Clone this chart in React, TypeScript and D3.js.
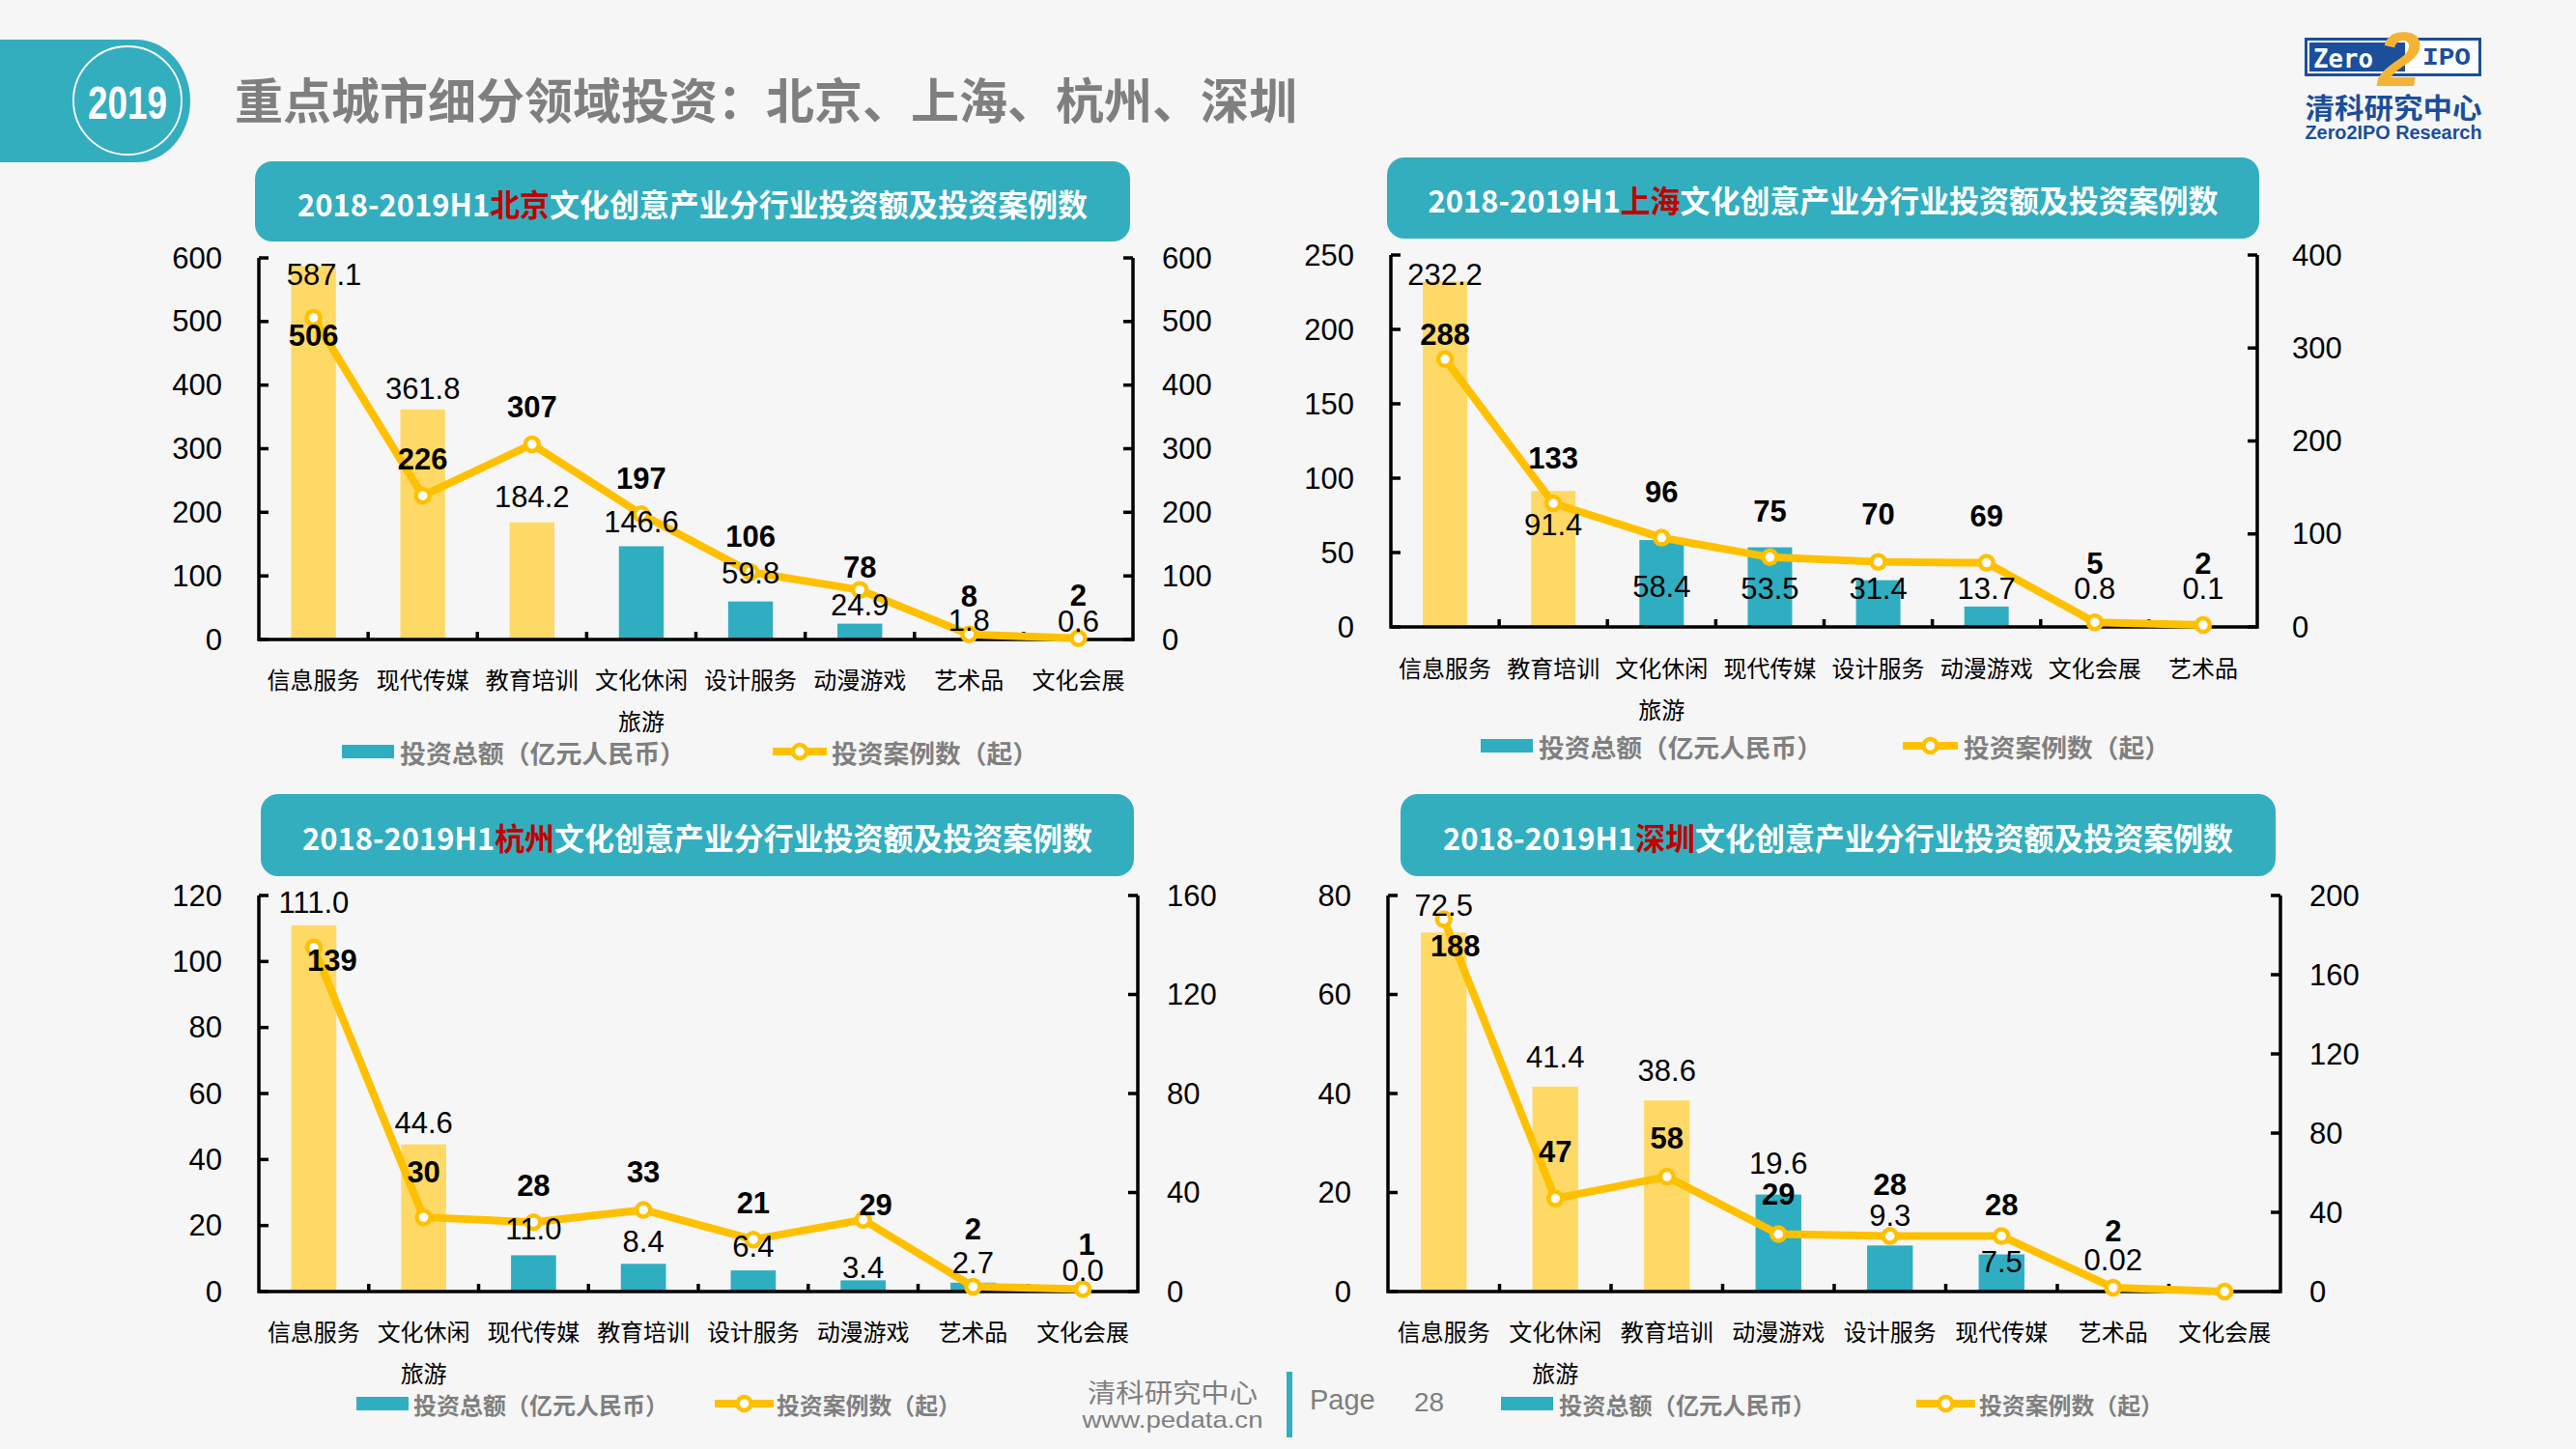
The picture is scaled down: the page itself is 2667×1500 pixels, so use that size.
import React from 'react';
import * as d3 from 'd3';

const CJK = "'Noto Sans CJK SC','Noto Sans CJK JP',sans-serif";
const NUM = "'Liberation Sans',Arial,sans-serif";
const TEAL = '#33AEBF';
const BAR_TEAL = '#2FAEC1';
const BAR_YELLOW = '#FFD966';
const LINE = '#FFC000';
const BG = '#F6F6F6';
const DARK_RED = '#C00000';
const GRAY = '#7F7F7F';
const LOGO_BLUE = '#1B4E9B';

// ---------------- Data ----------------
const bjCategories = ['信息服务', '现代传媒', '教育培训', '文化休闲旅游', '设计服务', '动漫游戏', '艺术品', '文化会展'];
const bjAmounts: (number | null)[] = [587.1, 361.8, 184.2, 146.6, 59.8, 24.9, 1.8, 0.6];
const bjCases = [506, 226, 307, 197, 106, 78, 8, 2];
const bjLeftTicks = [0, 100, 200, 300, 400, 500, 600];
const bjRightTicks = [0, 100, 200, 300, 400, 500, 600];

const shCategories = ['信息服务', '教育培训', '文化休闲旅游', '现代传媒', '设计服务', '动漫游戏', '文化会展', '艺术品'];
const shAmounts: (number | null)[] = [232.2, 91.4, 58.4, 53.5, 31.4, 13.7, 0.8, 0.1];
const shCases = [288, 133, 96, 75, 70, 69, 5, 2];
const shLeftTicks = [0, 50, 100, 150, 200, 250];
const shRightTicks = [0, 100, 200, 300, 400];

const hzCategories = ['信息服务', '文化休闲旅游', '现代传媒', '教育培训', '设计服务', '动漫游戏', '艺术品', '文化会展'];
const hzAmounts: (number | null)[] = [111.0, 44.6, 11.0, 8.4, 6.4, 3.4, 2.7, 0.0];
const hzCases = [139, 30, 28, 33, 21, 29, 2, 1];
const hzLeftTicks = [0, 20, 40, 60, 80, 100, 120];
const hzRightTicks = [0, 40, 80, 120, 160];

const szCategories = ['信息服务', '文化休闲旅游', '教育培训', '动漫游戏', '设计服务', '现代传媒', '艺术品', '文化会展'];
const szAmounts: (number | null)[] = [72.5, 41.4, 38.6, 19.6, 9.3, 7.5, 0.02, null];
const szCases = [188, 47, 58, 29, 28, 28, 2, 0];
const szLeftTicks = [0, 20, 40, 60, 80];
const szRightTicks = [0, 40, 80, 120, 160, 200];

const legendBarName = '投资总额（亿元人民币）';
const legendLineName = '投资案例数（起）';
const titlePrefix = '2018-2019H1';
const titleSuffix = '文化创意产业分行业投资额及投资案例数';

// ---------------- Layout (label offsets in px, separate from data) ----------------
const bjBarDy = [9, -21, -26, -25, -29, -19, -18, -18];
const bjLineDy = [19, -38, -38, -37, -37, -23, -39, -44];
const shBarDy = [-7, 35, 48, 43, 9, -18, -38, -39];
const shLineDy = [-25, -46, -47, -47, -49, -48, -61, -64];
const hzBarDy = [-23, -22, -27, -23, -25, -13, -20, -22];
const hzLineDy = [14, -47, -38, -39, -38, -15, -59, -46];
const szBarDy = [-28, -30, -31, -32, -31, 8, -32, 0];
const szLineDy = [28, -48, -40, -41, -53, -32, -58, 0];
const bjBarDx = [11, 0, 0, 0, 0, 0, 0, 0];
const hzLineDx = [19, 0, 0, 0, 0, 13, 0, 4];
const szLineDx = [12, 0, 0, 0, 0, 0, 0, 0];
const zeros = [0, 0, 0, 0, 0, 0, 0, 0];

type Spec = {
  city: string;
  categories: string[];
  amounts: (number | null)[];
  cases: number[];
  leftTicks: number[];
  rightTicks: number[];
  highlight: number;
  x0: number; x1: number; yTop: number; yBase: number;
  banner: { x: number; y: number; w: number; h: number };
  catY: number; catY2: number;
  rightGap: number;
  legend: { y: number; sw: number; t1: number; w1: number; l0: number; l1: number; t2: number; w2: number; fs: number };
  barDy: number[]; lineDy: number[]; barDx: number[]; lineDx: number[];
};

const specs: Spec[] = [
  {
    city: '北京', categories: bjCategories, amounts: bjAmounts, cases: bjCases,
    leftTicks: bjLeftTicks, rightTicks: bjRightTicks, highlight: 3,
    x0: 268, x1: 1173, yTop: 267, yBase: 662,
    banner: { x: 264, y: 167, w: 906, h: 83 }, catY: 702, catY2: 745, rightGap: 30,
    legend: { y: 778, sw: 354, t1: 414, w1: 296, l0: 800, l1: 856, t2: 861, w2: 214, fs: 26 },
    barDy: bjBarDy, lineDy: bjLineDy, barDx: bjBarDx, lineDx: zeros,
  },
  {
    city: '上海', categories: shCategories, amounts: shAmounts, cases: shCases,
    leftTicks: shLeftTicks, rightTicks: shRightTicks, highlight: 2,
    x0: 1440, x1: 2337, yTop: 264, yBase: 649,
    banner: { x: 1436, y: 163, w: 903, h: 84 }, catY: 690, catY2: 733, rightGap: 36,
    legend: { y: 772, sw: 1533, t1: 1593, w1: 294, l0: 1970, l1: 2027, t2: 2033, w2: 214, fs: 26 },
    barDy: shBarDy, lineDy: shLineDy, barDx: zeros, lineDx: zeros,
  },
  {
    city: '杭州', categories: hzCategories, amounts: hzAmounts, cases: hzCases,
    leftTicks: hzLeftTicks, rightTicks: hzRightTicks, highlight: 2,
    x0: 268, x1: 1178, yTop: 927, yBase: 1337,
    banner: { x: 270, y: 822, w: 904, h: 85 }, catY: 1377, catY2: 1420, rightGap: 30,
    legend: { y: 1453, sw: 369, t1: 428, w1: 264, l0: 740, l1: 801, t2: 804, w2: 191, fs: 24 },
    barDy: hzBarDy, lineDy: hzLineDy, barDx: zeros, lineDx: hzLineDx,
  },
  {
    city: '深圳', categories: szCategories, amounts: szAmounts, cases: szCases,
    leftTicks: szLeftTicks, rightTicks: szRightTicks, highlight: 3,
    x0: 1437, x1: 2361, yTop: 927, yBase: 1337,
    banner: { x: 1450, y: 822, w: 906, h: 85 }, catY: 1377, catY2: 1420, rightGap: 30,
    legend: { y: 1453, sw: 1554, t1: 1614, w1: 266, l0: 1984, l1: 2045, t2: 2049, w2: 191, fs: 24 },
    barDy: szBarDy, lineDy: szLineDy, barDx: zeros, lineDx: szLineDx,
  },
];

const fmtAmount = (v: number | null) =>
  v === null ? '' : v > 0 && v < 0.1 ? String(v) : v.toFixed(1);

function Chart({ s }: { s: Spec }) {
  const x = d3.scaleBand<string>().domain(s.categories).range([s.x0, s.x1]).padding(0);
  const band = x.bandwidth();
  const bw = band * 0.41;
  const yL = d3.scaleLinear().domain([0, d3.max(s.leftTicks) as number]).range([s.yBase, s.yTop]);
  const yR = d3.scaleLinear().domain([0, d3.max(s.rightTicks) as number]).range([s.yBase, s.yTop]);
  const cx = (i: number) => (x(s.categories[i]) as number) + band / 2;
  const linePath = d3.line<number>().x((_, i) => cx(i)).y((d) => yR(d))(s.cases) as string;
  const b = s.banner;
  const axisW = 3.5;
  const tickLen = 10;
  const lg = s.legend;

  return (
    <g>
      {/* banner */}
      <rect x={b.x} y={b.y} width={b.w} height={b.h} rx={18} fill={TEAL} />
      <text x={b.x + b.w / 2} y={b.y + b.h / 2 + 1} textAnchor="middle" dominantBaseline="central"
        fontFamily={CJK} fontWeight={700} fontSize={32} fill="#fff" textLength={818} lengthAdjust="spacingAndGlyphs">
        <tspan>{titlePrefix}</tspan>
        <tspan fill={DARK_RED}>{s.city}</tspan>
        <tspan>{titleSuffix}</tspan>
      </text>

      {/* bars */}
      {s.amounts.map((v, i) =>
        v === null ? null : (
          <rect key={'b' + i} x={cx(i) - bw / 2} y={yL(v)} width={bw} height={s.yBase - yL(v)}
            fill={i < s.highlight ? BAR_YELLOW : BAR_TEAL} />
        )
      )}

      {/* axes */}
      <g stroke="#000" strokeWidth={axisW} fill="none">
        <path d={`M${s.x0},${s.yTop} V${s.yBase} H${s.x1} V${s.yTop}`} strokeLinejoin="miter" />
        {s.leftTicks.map((t) => (
          <path key={'lt' + t} d={`M${s.x0},${yL(t)} h${tickLen}`} />
        ))}
        {s.rightTicks.map((t) => (
          <path key={'rt' + t} d={`M${s.x1},${yR(t)} h${-tickLen}`} />
        ))}
        {s.categories.slice(1).map((c) => (
          <path key={'xt' + c} d={`M${x(c)},${s.yBase} v${-8}`} />
        ))}
      </g>

      {/* tick labels */}
      <g fontFamily={NUM} fontSize={31} fill="#000">
        {s.leftTicks.map((t) => (
          <text key={'ll' + t} x={s.x0 - 38} y={yL(t)} textAnchor="end" dominantBaseline="central">{t}</text>
        ))}
        {s.rightTicks.map((t) => (
          <text key={'rl' + t} x={s.x1 + s.rightGap} y={yR(t)} textAnchor="start" dominantBaseline="central">{t}</text>
        ))}
      </g>

      {/* category labels */}
      <g fontFamily={CJK} fontSize={24} fill="#000">
        {s.categories.map((c, i) => (
          <g key={'c' + c}>
            <text x={cx(i)} y={s.catY} textAnchor="middle" dominantBaseline="central">{c.slice(0, 4)}</text>
            {c.length > 4 && (
              <text x={cx(i)} y={s.catY2} textAnchor="middle" dominantBaseline="central">{c.slice(4)}</text>
            )}
          </g>
        ))}
      </g>

      {/* line */}
      <path d={linePath} fill="none" stroke={LINE} strokeWidth={8} strokeLinejoin="round" />
      {s.cases.map((v, i) => (
        <circle key={'m' + i} cx={cx(i)} cy={yR(v)} r={7} fill="#fff" stroke={LINE} strokeWidth={4.5} />
      ))}

      {/* bar value labels */}
      <g fontFamily={NUM} fontSize={31} fill="#000">
        {s.amounts.map((v, i) =>
          v === null ? null : (
            <text key={'bl' + i} x={cx(i) + s.barDx[i]} y={yL(v) + s.barDy[i]} textAnchor="middle" dominantBaseline="central">
              {fmtAmount(v)}
            </text>
          )
        )}
      </g>
      {/* line value labels */}
      <g fontFamily={NUM} fontSize={31} fontWeight={700} fill="#000">
        {s.cases.map((v, i) =>
          v > 0 ? (
            <text key={'cl' + i} x={cx(i) + s.lineDx[i]} y={yR(v) + s.lineDy[i]} textAnchor="middle" dominantBaseline="central">
              {v}
            </text>
          ) : null
        )}
      </g>

      {/* legend */}
      <rect x={lg.sw} y={lg.y - 7} width={54} height={14} fill={BAR_TEAL} />
      <text x={lg.t1} y={lg.y} dominantBaseline="central" fontFamily={CJK} fontWeight={700} fontSize={lg.fs} fill={GRAY}
        textLength={lg.w1} lengthAdjust="spacingAndGlyphs">
        {legendBarName}
      </text>
      <path d={`M${lg.l0},${lg.y} H${lg.l1}`} stroke={LINE} strokeWidth={8} />
      <circle cx={(lg.l0 + lg.l1) / 2} cy={lg.y} r={7} fill="#fff" stroke={LINE} strokeWidth={4.5} />
      <text x={lg.t2} y={lg.y} dominantBaseline="central" fontFamily={CJK} fontWeight={700} fontSize={lg.fs} fill={GRAY}
        textLength={lg.w2} lengthAdjust="spacingAndGlyphs">
        {legendLineName}
      </text>
    </g>
  );
}

function Header() {
  return (
    <g>
      <path d="M0,41 H141 A56,63.5 0 0 1 141,168 H0 Z" fill={TEAL} />
      <circle cx={132} cy={104} r={56} fill="none" stroke="#fff" strokeWidth={1.8} />
      <text x={132} y={106} textAnchor="middle" dominantBaseline="central" fontFamily={NUM} fontWeight={700}
        fontSize={48} fill="#fff" textLength={82} lengthAdjust="spacingAndGlyphs">2019</text>
      <text x={243} y={101} dominantBaseline="central" fontFamily={CJK} fontWeight={700} fontSize={50}
        fill={GRAY} textLength={1100} lengthAdjust="spacingAndGlyphs">
        重点城市细分领域投资：北京、上海、杭州、深圳
      </text>

      {/* logo */}
      <rect x={2386} y={39} width={183} height={40} fill={LOGO_BLUE} />
      <rect x={2490} y={44} width={74} height={30} fill="#fff" />
      <rect x={2390} y={43} width={175} height={32} fill="none" stroke="#fff" strokeWidth={2} />
      <text x={2395} y={60} dominantBaseline="central" fontFamily="'DejaVu Sans Mono',monospace" fontWeight={700}
        fontSize={27} fill="#fff" textLength={62} lengthAdjust="spacingAndGlyphs">Zero</text>
      <text x={2508} y={60} dominantBaseline="central" fontFamily="'Liberation Mono','DejaVu Sans Mono',monospace" fontWeight={700}
        fontSize={26} fill={LOGO_BLUE} textLength={50} lengthAdjust="spacingAndGlyphs">IPO</text>
      <text x={2484} y={89} textAnchor="middle" fontFamily={NUM} fontWeight={700} fontStyle="italic"
        fontSize={80} fill="#F5B335">2</text>
      <text x={2478} y={110} textAnchor="middle" dominantBaseline="central" fontFamily={CJK} fontWeight={700}
        fontSize={29} fill={LOGO_BLUE} textLength={183} lengthAdjust="spacingAndGlyphs">清科研究中心</text>
      <text x={2478} y={137} textAnchor="middle" dominantBaseline="central" fontFamily={NUM} fontWeight={700}
        fontSize={20} fill={LOGO_BLUE} textLength={183} lengthAdjust="spacingAndGlyphs">Zero2IPO Research</text>
    </g>
  );
}

function Footer() {
  return (
    <g>
      <text x={1214} y={1440} textAnchor="middle" dominantBaseline="central" fontFamily={CJK} fontSize={27}
        fill={GRAY} textLength={176} lengthAdjust="spacingAndGlyphs">清科研究中心</text>
      <text x={1214} y={1469} textAnchor="middle" dominantBaseline="central" fontFamily={NUM} fontSize={24}
        fill={GRAY} textLength={187} lengthAdjust="spacingAndGlyphs">www.pedata.cn</text>
      <rect x={1332} y={1420} width={6} height={68} fill={TEAL} />
      <text x={1356} y={1449} dominantBaseline="central" fontFamily={NUM} fontSize={29} fill={GRAY}>Page</text>
      <text x={1464} y={1451} dominantBaseline="central" fontFamily={NUM} fontSize={28} fill={GRAY}>28</text>
    </g>
  );
}

export default function App() {
  return (
    <svg width={2667} height={1500} viewBox="0 0 2667 1500"
      style={{ position: 'absolute', left: 0, top: 0, display: 'block' }}>
      <rect x={0} y={0} width={2667} height={1500} fill={BG} />
      <Header />
      {specs.map((s) => (
        <Chart key={s.city} s={s} />
      ))}
      <Footer />
    </svg>
  );
}
